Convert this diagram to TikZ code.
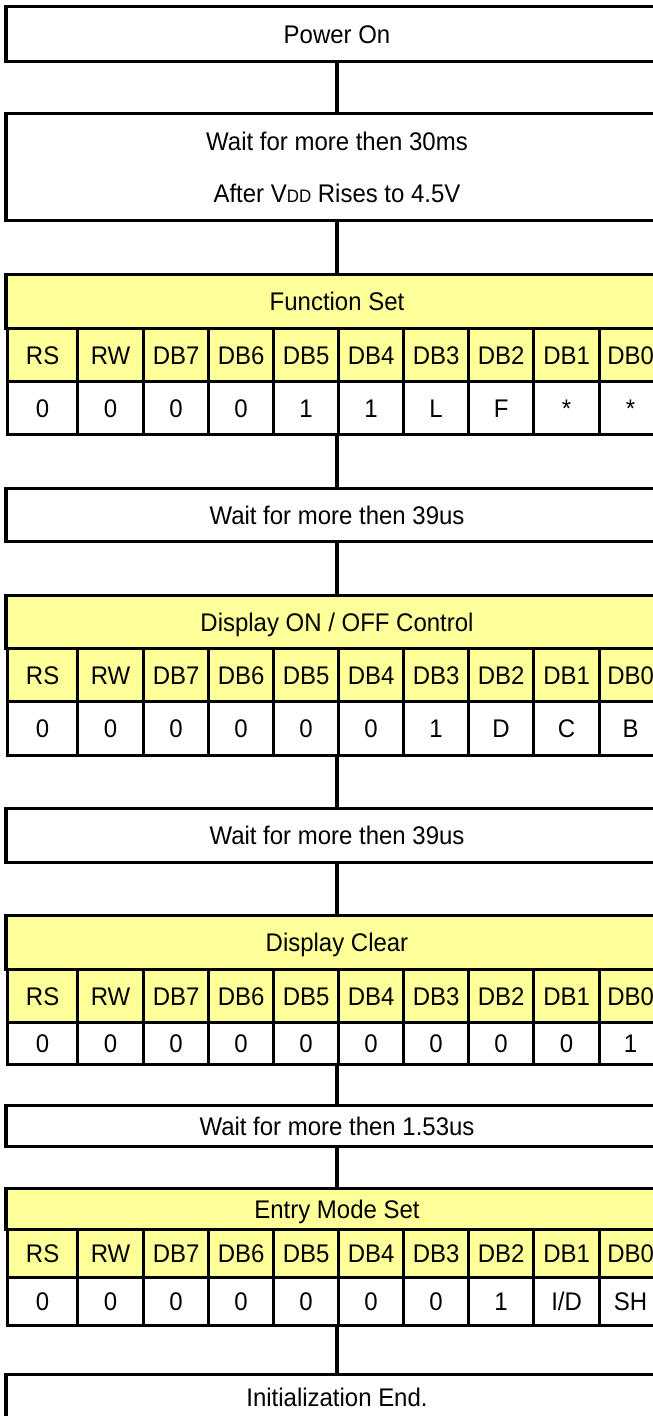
\documentclass[tikz,border=0pt]{standalone}
\usepackage{fontspec}
\setmainfont{Liberation Sans}[FakeStretch=0.94]
\definecolor{cellyellow}{RGB}{255,255,153}
\newcommand\fsz{\fontsize{25.5pt}{30pt}\selectfont}
\tikzset{
  frame/.style={draw=black, line width=3.2pt, inner sep=0pt, font=\fsz},
  box/.style={frame, minimum width=662pt, anchor=north},
  oneline/.style={text height=18.3pt, text depth=0pt},
  hdr/.style={box, oneline, fill=cellyellow},
  cellbox/.style={frame, oneline, anchor=north west},
  conn/.style={draw=black, line width=3.2pt}
}
\def\xs{{6,76,142,207,272,337,402,467,532,598,660}}
% #1 name, #2 top, #3 header h, #4 row1 h, #5 row2 h, #6 title, #7 values
\newcommand\cmdtable[7]{%
  \node[hdr, minimum height=#3pt] (#1) at (337,#2) {#6};
  \foreach \lab [count=\i from 0] in {RS,RW,DB7,DB6,DB5,DB4,DB3,DB2,DB1,DB0}{
    \pgfmathsetmacro\cellx{\xs[\i]}
    \pgfmathsetmacro\cellw{\xs[\i+1]-\xs[\i]}
    \node[cellbox, fill=cellyellow, minimum width=\cellw pt, minimum height=#4pt]
      (#1r\i) at (\cellx,#2+#3) {\lab};
  }
  \foreach \val [count=\i from 0] in {#7}{
    \pgfmathsetmacro\cellx{\xs[\i]}
    \pgfmathsetmacro\cellw{\xs[\i+1]-\xs[\i]}
    \node[cellbox, fill=white, minimum width=\cellw pt, minimum height=#5pt]
      (#1v\i) at (\cellx,#2+#3+#4) {\val};
  }
}
\begin{document}
\begin{tikzpicture}[x=1pt,y=-1pt]
\useasboundingbox (0,0) rectangle (653,1416);
\clip (0,0) rectangle (653,1416);
\fill[white] (0,0) rectangle (653,1416);

\node[box, oneline, minimum height=55pt] (P) at (337,5) {Power On};
\node[box, minimum height=107pt, align=center, font=\fontsize{25.5pt}{52pt}\selectfont]
  (W1) at (337,112) {Wait for more then 30ms\\After V{\fontsize{18pt}{18pt}\selectfont DD} Rises to 4.5V};

\cmdtable{T1}{273}{54}{53}{53}{Function Set}{0,0,0,0,1,1,L,F,*,*}
\node[box, oneline, minimum height=53pt] (W2) at (337,487) {Wait for more then 39us};

\cmdtable{T2}{594}{53}{53}{54}{Display ON / OFF Control}{0,0,0,0,0,0,1,D,C,B}
\node[box, oneline, minimum height=54pt] (W3) at (337,807) {Wait for more then 39us};

\cmdtable{T3}{914}{54}{53}{42}{Display Clear}{0,0,0,0,0,0,0,0,0,1}
\node[box, oneline, minimum height=41pt] (W4) at (337,1104) {Wait for more then 1.53us};

\cmdtable{T4}{1187}{41}{48}{48}{Entry Mode Set}{0,0,0,0,0,0,0,1,I/D,SH}
\node[box, oneline, minimum height=45pt] (E) at (337,1373) {Initialization End.};

\draw[conn] (P.south) -- (W1.north);
\draw[conn] (W1.south) -- (T1.north);
\draw[conn] (T1v5.south west) -- (W2.north);
\draw[conn] (W2.south) -- (T2.north);
\draw[conn] (T2v5.south west) -- (W3.north);
\draw[conn] (W3.south) -- (T3.north);
\draw[conn] (T3v5.south west) -- (W4.north);
\draw[conn] (W4.south) -- (T4.north);
\draw[conn] (T4v5.south west) -- (E.north);
\end{tikzpicture}
\end{document}
